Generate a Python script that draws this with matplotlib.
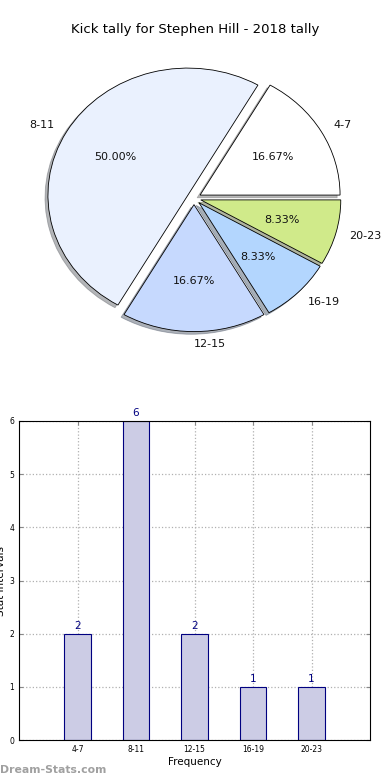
import matplotlib
matplotlib.use("Agg")
import matplotlib.pyplot as plt

categories = ["4-7", "8-11", "12-15", "16-19", "20-23"]
counts = [2, 6, 2, 1, 1]
pie_colors = ["#ffffff", "#eaf1fe", "#c6d9fe", "#b3d6fe", "#d0ea8a"]
title = "Kick tally for Stephen Hill - 2018 tally"

fig = plt.figure(figsize=(3.9, 7.8), dpi=100)

# Pie
axp = fig.add_axes([19/390, (780-357)/780, 350/390, 317.5/780])
wedges, texts, autotexts = axp.pie(
    counts, labels=categories, colors=pie_colors, autopct="%1.2f%%",
    explode=[0.05]*len(counts),
    shadow={"ox": -0.015, "oy": -0.015, "shade": 0.55},
    startangle=0,
    wedgeprops=dict(edgecolor="black", linewidth=0.6),
    textprops=dict(fontsize=8, color="#111111"))
axp.set_aspect("auto")
axp.set_xlim(-1.25, 1.25)
axp.set_ylim(-1.25, 1.25)
fig.text(195/390, 1-30/780, title, ha="center", va="center", fontsize=9.5)

# Bar
axb = fig.add_axes([19/390, 40/780, 351/390, 319/780])
x = list(range(len(categories)))
bars = axb.bar(x, counts, width=0.45, color="#ccccE5", edgecolor="#000080",
               linewidth=0.8, align="center", zorder=2)
for xi, c in zip(x, counts):
    axb.text(xi, c + 0.05, str(c), ha="center", va="bottom", fontsize=7.5,
             color="#000080")
axb.set_xlim(-1, 5)
axb.set_ylim(0, 6)
axb.set_xticks(x)
axb.set_xticklabels(categories, fontsize=5.5)
axb.set_yticks(range(0, 7))
axb.tick_params(axis="y", labelsize=5.5)
axb.tick_params(direction="in", top=True, right=True, length=3, color="#888888")
axb.grid(True, linestyle=":", color="#b0b0b0", linewidth=0.9, zorder=0)
axb.set_axisbelow(True)
axb.set_xlabel("Frequency", fontsize=7.5, labelpad=2)
axb.set_ylabel("Stat Intervals", fontsize=7.5, labelpad=2)
for s in axb.spines.values():
    s.set_linewidth(0.8)

fig.text(0.0, 1-770/780, "Dream-Stats.com", ha="left", va="center",
         fontsize=7.8, color="#a0a0a0", fontweight="semibold")

fig.savefig("out.png", dpi=100)
